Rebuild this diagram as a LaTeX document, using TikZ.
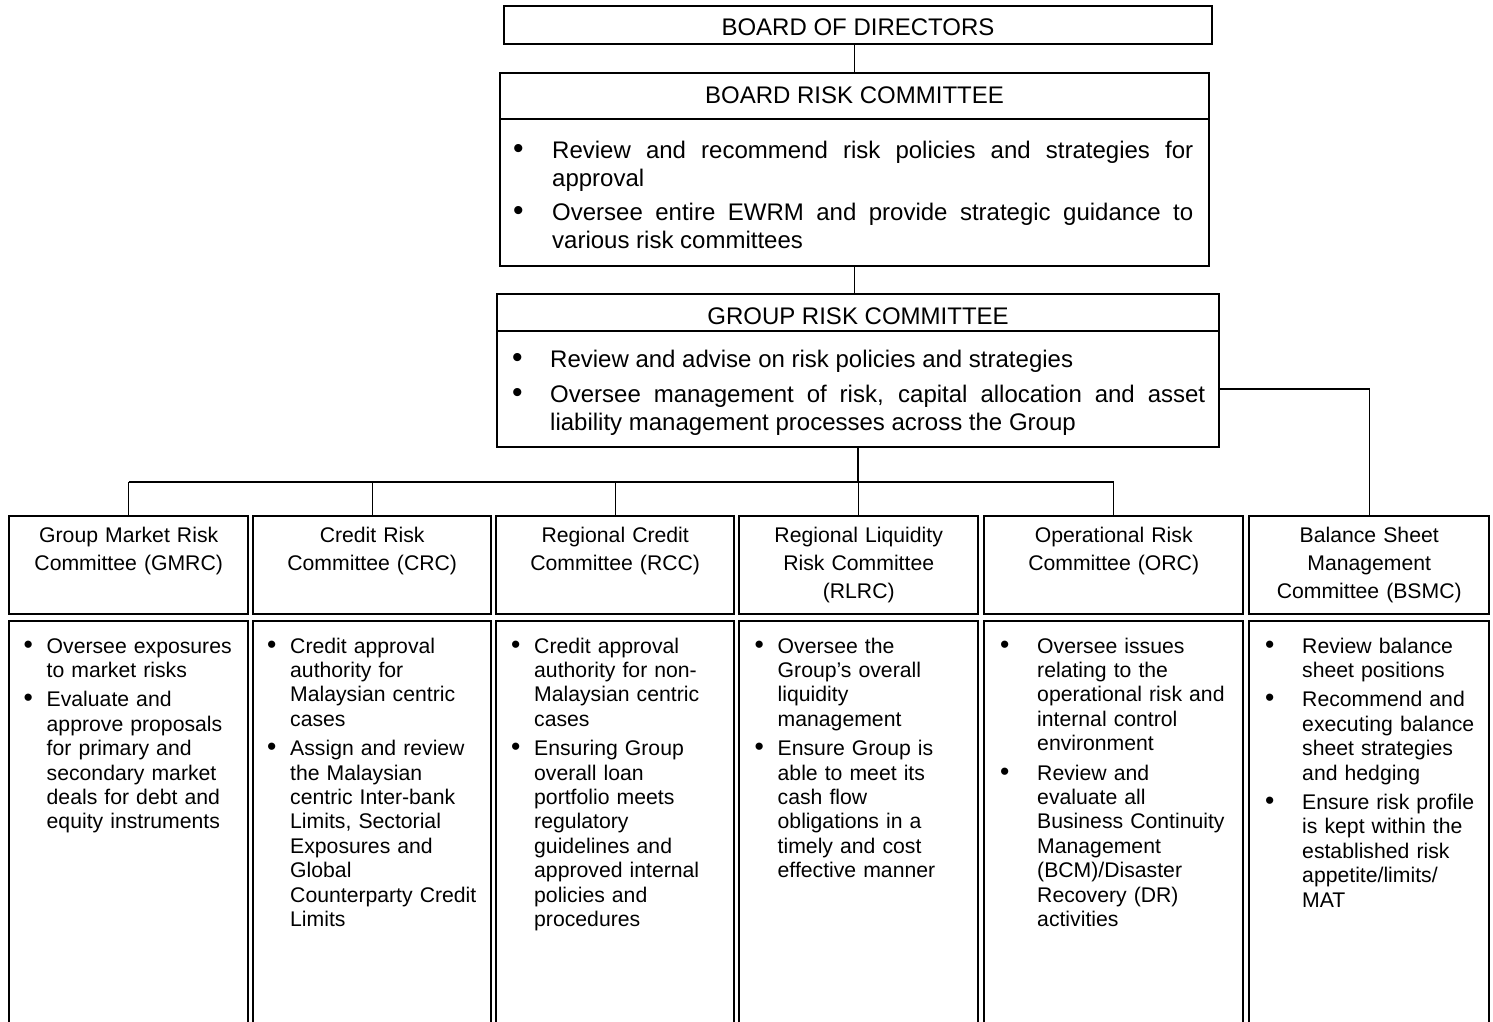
\documentclass[tikz,border=0pt]{standalone}
\usepackage{graphicx}
\usepackage{fontspec}
\setmainfont{Liberation Sans}
\newcommand{\colfont}{\fontsize{21.2pt}{24.4pt}\selectfont}
\newcommand{\headfont}{\fontsize{21.2pt}{28pt}\selectfont}
\newcommand{\topfont}{\fontsize{24pt}{27.5pt}\selectfont}
\newcommand{\bitm}[2]{\hangindent=#1\hangafter=1\noindent\makebox[#1][l]{\scalebox{1.25}{\textbullet}}#2\par}
\begin{document}
\begin{tikzpicture}[x=1pt,y=-1pt,
  topbox/.style={draw, line width=2pt, inner sep=0pt, anchor=north west, font=\topfont},
  colbox/.style={draw, line width=2.4pt, inner sep=0pt, anchor=north west, minimum width=#1},
  headtxt/.style={anchor=base, align=center, inner sep=0pt, font=\headfont},
  coltxt/.style={anchor=base west, inner sep=0pt, text width=260pt, align=left, font=\colfont},
  toptxt/.style={anchor=base west, inner sep=0pt, align=justify, font=\topfont},
  conn/.style={line width=1.4pt},
  sepline/.style={line width=2pt}
]
\useasboundingbox (0,0) rectangle (1493,1022);
\clip (0,0) rectangle (1493,1022);

% top boxes
\node[topbox, minimum width=708pt, text height=30pt, text depth=8pt] (bod) at (503,5) {BOARD OF DIRECTORS};
\node[topbox, minimum width=709pt, text height=31pt, text depth=162pt] (brc) at (499,72) {BOARD RISK COMMITTEE};
\draw[sepline] ([yshift=-47.5pt]brc.north west) -- ([yshift=-47.5pt]brc.north east);
\node[toptxt, text width=680pt] (brc-t) at (513,158.5) {\bitm{39pt}{Review and recommend risk policies and strategies for\linebreak approval}\vspace{7.5pt}\bitm{39pt}{Oversee entire EWRM and provide strategic guidance to\linebreak various risk committees}};

\node[topbox, minimum width=722pt, text height=30pt, text depth=123pt] (grc) at (496,293) {GROUP RISK COMMITTEE};
\draw[sepline] ([yshift=-38pt]grc.north west) -- ([yshift=-38pt]grc.north east);
\node[toptxt, text width=693pt] (grc-t) at (512,367.5) {\bitm{38pt}{Review and advise on risk policies and strategies}\vspace{7.5pt}\bitm{38pt}{Oversee management of risk, capital allocation and asset\linebreak liability management processes across the Group}};

% column boxes
\node[colbox=239pt, minimum height=98pt] (gmrc-h) at (8,515) {};
\node[colbox=238pt, minimum height=98pt] (crc-h) at (252,515) {};
\node[colbox=238pt, minimum height=98pt] (rcc-h) at (495,515) {};
\node[colbox=239pt, minimum height=98pt] (rlrc-h) at (738,515) {};
\node[colbox=259pt, minimum height=98pt] (orc-h) at (983,515) {};
\node[colbox=240pt, minimum height=98pt] (bsmc-h) at (1248,515) {};

\node[colbox=239pt, minimum height=420pt] (gmrc-b) at (8,620) {};
\node[colbox=238pt, minimum height=420pt] (crc-b) at (252,620) {};
\node[colbox=238pt, minimum height=420pt] (rcc-b) at (495,620) {};
\node[colbox=239pt, minimum height=420pt] (rlrc-b) at (738,620) {};
\node[colbox=259pt, minimum height=420pt] (orc-b) at (983,620) {};
\node[colbox=240pt, minimum height=420pt] (bsmc-b) at (1248,620) {};

% header texts
\node[headtxt, text width=239pt] (gmrc-l) at ([yshift=-27pt]gmrc-h.north) {Group Market Risk\\Committee (GMRC)};
\node[headtxt, text width=238pt] (crc-l) at ([yshift=-27pt]crc-h.north) {Credit Risk\\Committee (CRC)};
\node[headtxt, text width=238pt] (rcc-l) at ([yshift=-27pt]rcc-h.north) {Regional Credit\\Committee (RCC)};
\node[headtxt, text width=239pt] (rlrc-l) at ([yshift=-27pt]rlrc-h.north) {Regional Liquidity\\Risk Committee\\(RLRC)};
\node[headtxt, text width=259pt] (orc-l) at ([yshift=-27pt]orc-h.north) {Operational Risk\\Committee (ORC)};
\node[headtxt, text width=240pt] (bsmc-l) at ([yshift=-27pt]bsmc-h.north) {Balance Sheet\\Management\\Committee (BSMC)};

% body texts
\node[coltxt] (gmrc-t) at (23.5,653) {\bitm{23pt}{Oversee exposures\newline to market risks}\vspace{5pt}\bitm{23pt}{Evaluate and\newline approve proposals\newline for primary and\newline secondary market\newline deals for debt and\newline equity instruments}};
\node[coltxt] (crc-t) at (267,653) {\bitm{23pt}{Credit approval\newline authority for\newline Malaysian centric\newline cases}\vspace{5pt}\bitm{23pt}{Assign and review\newline the Malaysian\newline centric Inter-bank\newline Limits, Sectorial\newline Exposures and\newline Global\newline Counterparty Credit\newline Limits}};
\node[coltxt] (rcc-t) at (511,653) {\bitm{23pt}{Credit approval\newline authority for non-\newline Malaysian centric\newline cases}\vspace{5pt}\bitm{23pt}{Ensuring Group\newline overall loan\newline portfolio meets\newline regulatory\newline guidelines and\newline approved internal\newline policies and\newline procedures}};
\node[coltxt] (rlrc-t) at (754.5,653) {\bitm{23pt}{Oversee the\newline Group’s overall\newline liquidity\newline management}\vspace{5pt}\bitm{23pt}{Ensure Group is\newline able to meet its\newline cash flow\newline obligations in a\newline timely and cost\newline effective manner}};
\node[coltxt] (orc-t) at (1000,653) {\bitm{37pt}{Oversee issues\newline relating to the\newline operational risk and\newline internal control\newline environment}\vspace{5pt}\bitm{37pt}{Review and\newline evaluate all\newline Business Continuity\newline Management\newline (BCM)/Disaster\newline Recovery (DR)\newline activities}};
\node[coltxt] (bsmc-t) at (1265,653) {\bitm{37pt}{Review balance\newline sheet positions}\vspace{5pt}\bitm{37pt}{Recommend and\newline executing balance\newline sheet strategies\newline and hedging}\vspace{5pt}\bitm{37pt}{Ensure risk profile\newline is kept within the\newline established risk\newline appetite/limits/\newline MAT}};

% connectors
\draw[conn] (bod.south -| brc.north) -- (brc.north);
\draw[conn] (brc.south) -- (brc.south |- grc.north);
\path (grc.south) ++(0,34) coordinate (bus);
\draw[conn] (grc.south) -- (bus);
\draw[conn] (gmrc-h.north |- bus) -- (orc-h.north |- bus);
\foreach \n in {gmrc,crc,rcc,rlrc,orc} \draw[conn] (\n-h.north) -- (\n-h.north |- bus);
\draw[conn] ([yshift=-18.5pt]grc.east) -| (bsmc-h.north);
\end{tikzpicture}
\end{document}
